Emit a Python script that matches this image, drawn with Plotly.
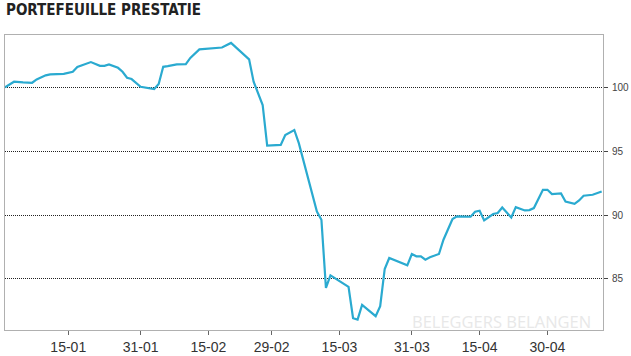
import plotly.graph_objects as go

dates = [
    "2020-01-01", "2020-01-03", "2020-01-05", "2020-01-07", "2020-01-08", "2020-01-10",
    "2020-01-11", "2020-01-14", "2020-01-16", "2020-01-17", "2020-01-20", "2020-01-22",
    "2020-01-23", "2020-01-24", "2020-01-26", "2020-01-27", "2020-01-28", "2020-01-29",
    "2020-01-31", "2020-02-02", "2020-02-03", "2020-02-04", "2020-02-05", "2020-02-06",
    "2020-02-08", "2020-02-10", "2020-02-11", "2020-02-13", "2020-02-15", "2020-02-18",
    "2020-02-20", "2020-02-22", "2020-02-24", "2020-02-25", "2020-02-27", "2020-02-28",
    "2020-03-02", "2020-03-03", "2020-03-05", "2020-03-06", "2020-03-10", "2020-03-11",
    "2020-03-12", "2020-03-13", "2020-03-15", "2020-03-17", "2020-03-18", "2020-03-19",
    "2020-03-20", "2020-03-23", "2020-03-24", "2020-03-25", "2020-03-26", "2020-03-28",
    "2020-03-30", "2020-03-31", "2020-04-01", "2020-04-02", "2020-04-03", "2020-04-04",
    "2020-04-06", "2020-04-07", "2020-04-09", "2020-04-10", "2020-04-13", "2020-04-14",
    "2020-04-15", "2020-04-16", "2020-04-18", "2020-04-19", "2020-04-20", "2020-04-21",
    "2020-04-22", "2020-04-23", "2020-04-25", "2020-04-26", "2020-04-27", "2020-04-29",
    "2020-04-30", "2020-05-01", "2020-05-03", "2020-05-04", "2020-05-06", "2020-05-07",
    "2020-05-08", "2020-05-10", "2020-05-12",
]
values = [
    100.0, 100.44, 100.39, 100.36, 100.62, 100.94,
    101.02, 101.06, 101.22, 101.59, 101.98, 101.69,
    101.69, 101.8, 101.53, 101.22, 100.75, 100.65,
    100.05, 99.92, 99.87, 100.26, 101.61, 101.66,
    101.8, 101.82, 102.31, 102.97, 103.05, 103.12,
    103.48, 102.86, 102.19, 100.44, 98.62, 95.44,
    95.49, 96.27, 96.66, 95.63, 90.28, 89.63,
    84.3, 85.28, 84.81, 84.38, 81.92, 81.82,
    82.97, 82.08, 82.86, 85.78, 86.64, 86.38,
    86.06, 86.95, 86.77, 86.77, 86.51, 86.69,
    86.95, 88.07, 89.69, 89.9, 89.87, 90.26,
    90.34, 89.58, 90.08, 90.16, 90.59, 90.2,
    89.81, 90.62, 90.36, 90.39, 90.55, 91.98,
    91.98, 91.64, 91.69, 91.06, 90.88, 91.14,
    91.51, 91.59, 91.84,
]

x_tick_dates = ["2020-01-15", "2020-01-31", "2020-02-15", "2020-02-29",
                "2020-03-15", "2020-03-31", "2020-04-15", "2020-04-30"]
x_tick_labels = ["15-01", "31-01", "15-02", "29-02", "15-03", "31-03", "15-04", "30-04"]
y_ticks = [85, 90, 95, 100]
y_tick_labels = ["85", "90", "95", "100"]

title_text = "PORTEFEUILLE PRESTATIE"
watermark_text = "BELEGGERS BELANGEN"

fig = go.Figure()
fig.add_trace(go.Scatter(
    x=dates, y=values, mode="lines",
    line=dict(color="#2aaad0", width=2.2),
    hoverinfo="skip", showlegend=False,
))

fig.update_layout(
    width=631, height=356,
    margin=dict(l=5, r=28, t=35, b=26),
    paper_bgcolor="white", plot_bgcolor="white",
    font=dict(family="Liberation Sans, Arial, sans-serif", color="#333333"),
    xaxis=dict(
        range=["2020-01-01", "2020-05-12 07:00"],
        automargin=False,
        tickvals=x_tick_dates, ticktext=x_tick_labels,
        ticks="outside", ticklen=4, tickcolor="#666666", tickwidth=1,
        tickfont=dict(size=14, color="#333333"),
        ticklabelstandoff=0,
        showgrid=False, zeroline=False,
        showline=True, mirror=True, linecolor="#b0b0b0", linewidth=1,
    ),
    yaxis=dict(
        range=[81.0, 104.1], side="right",
        automargin=False,
        tickvals=y_ticks, ticktext=y_tick_labels,
        ticks="outside", ticklen=4, tickcolor="#444444", tickwidth=1,
        tickfont=dict(size=10, color="#444444"),
        ticklabelstandoff=2,
        showgrid=True, gridcolor="#222222", gridwidth=1, griddash="1px,1px",
        zeroline=False,
        showline=True, mirror=True, linecolor="#b0b0b0", linewidth=1,
    ),
    annotations=[
        dict(text="<b>" + title_text + "</b>", x=-0.002, y=1.0 + (35 - 10) / 295.0,
             xref="paper", yref="paper",
             xanchor="left", yanchor="middle", showarrow=False,
             font=dict(family="Liberation Sans Narrow, DejaVu Sans Condensed, sans-serif",
                       size=15, color="#222222")),
        dict(text=watermark_text, x=0.83, y=0.029, xref="paper", yref="paper",
             xanchor="center", yanchor="middle", showarrow=False,
             font=dict(family="Open Sans, sans-serif", size=16.5, color="#e8e8e8")),
    ],
)

fig.write_html("out.html", config={"displayModeBar": False},
               post_script="document.body.style.margin='0';document.body.style.padding='0';")
